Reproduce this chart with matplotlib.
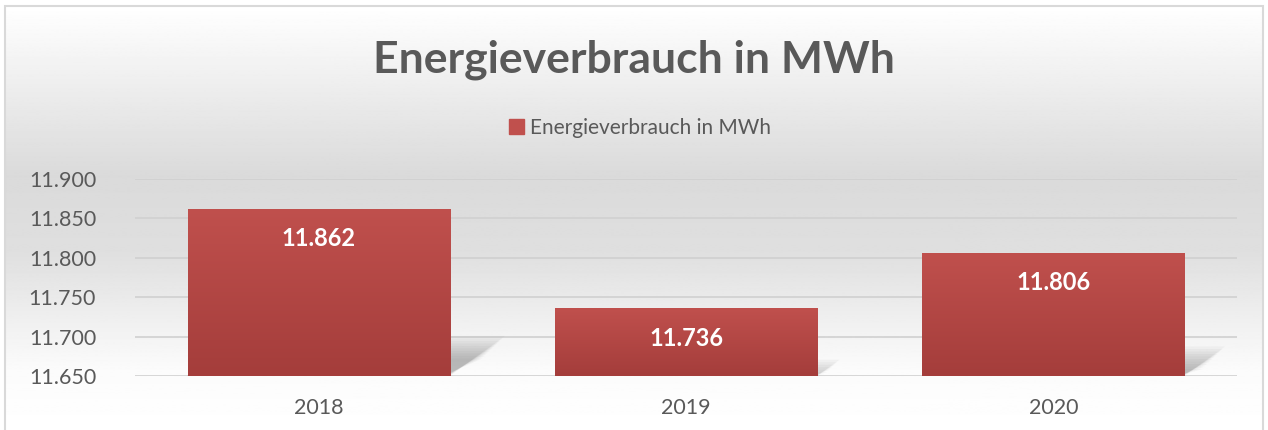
import matplotlib.pyplot as plt
import matplotlib.patches as mpatches
import numpy as np

years = ["2018", "2019", "2020"]
consumption = [11862, 11736, 11806]
y_ticks = [11650, 11700, 11750, 11800, 11850, 11900]
title = "Energieverbrauch in MWh"
series_name = "Energieverbrauch in MWh"

TEXT = "#595959"
BAR_TOP = np.array([192, 80, 77]) / 255
BAR_BOTTOM = np.array([164, 61, 59]) / 255

plt.rcParams["font.family"] = ["Lato", "DejaVu Sans"]


def fmt_de(v):
    return f"{v:,.0f}".replace(",", ".")


fig = plt.figure(figsize=(12.68, 4.30), dpi=100)

# background gradient of the chart area: white -> grey -> white
bg = fig.add_axes([5 / 1268, 0, 1258 / 1268, 1 - 6 / 430], zorder=0)
stops = np.array([0.0, 0.40, 0.58, 0.86, 1.0])
levels = np.array([1.0, 0.855, 0.875, 0.985, 1.0])
rows = np.interp(np.linspace(0, 1, 400), stops, levels)
grad = np.repeat(rows[:, None], 2, axis=1)
bg.imshow(grad, cmap="gray", vmin=0, vmax=1, aspect="auto", extent=[0, 1, 0, 1])
bg.set_axis_off()

border = mpatches.Rectangle((5 / 1268, -0.01), 1258 / 1268, 1 - 6 / 430 + 0.01,
                            transform=fig.transFigure, fill=False,
                            edgecolor="#d9d9d9", linewidth=1.5, zorder=5)
fig.patches.append(border)

ax = fig.add_axes([135 / 1268, 54 / 430, 1102 / 1268, 197 / 430], zorder=1)
ax.patch.set_alpha(0)

x = np.arange(len(years))
width = 0.714
base = y_ticks[0]
ax.set_xlim(-0.5, len(years) - 0.5)
ax.set_ylim(y_ticks[0], y_ticks[-1])

# perspective shadows behind the bars
px_per_x = 1102 / 3
px_per_y = 197 / (y_ticks[-1] - y_ticks[0])
for xi, v in zip(x, consumption):
    h = v - base
    dx = 0.33 * h * px_per_y / px_per_x
    dy = 0.24 * h
    xl, xr = xi - width / 2, xi + width / 2
    for i in range(10):
        s = i * 2.5
        sx = s / px_per_x
        sy = s / px_per_y
        poly = [(xl, base), (xr + sx * 0.3 - sx * 0.6, base),
                (xr + dx - sx, base + dy - sy), (xl + dx, base + dy - sy)]
        ax.add_patch(mpatches.Polygon(poly, closed=True, facecolor="#6f6f6f",
                                      edgecolor="none", alpha=0.06, zorder=1))

bars = ax.bar(x, [v - base for v in consumption], width=width, bottom=base,
              color=BAR_TOP, zorder=2)

# vertical gradient for each bar
g = np.linspace(0, 1, 256)[:, None]
for b in bars:
    x0, y0 = b.get_x(), b.get_y()
    w, hgt = b.get_width(), b.get_height()
    cols = BAR_TOP[None, :] * (1 - g) + BAR_BOTTOM[None, :] * g
    img = ax.imshow(np.repeat(cols[:, None, :], 2, axis=1), aspect="auto",
                    extent=[x0, x0 + w, y0, y0 + hgt], zorder=3, origin="upper")
    img.set_clip_path(b)

for xi, v in zip(x, consumption):
    ax.annotate(fmt_de(v), (xi, v), xytext=(0, -21.5), textcoords="offset points",
                ha="center", va="center", color="white", fontsize=17,
                fontweight="bold", zorder=4)

ax.set_xticks(x)
ax.set_xticklabels(years)
ax.set_yticks(y_ticks)
ax.set_yticklabels([fmt_de(t) for t in y_ticks])
ax.tick_params(axis="both", length=0, labelsize=15.5, colors=TEXT)
ax.tick_params(axis="y", pad=28)
ax.tick_params(axis="x", pad=16)
for sp in ax.spines.values():
    sp.set_visible(False)
ax.grid(axis="y", color="#d0d0d0", linewidth=1.2, zorder=0)
ax.set_axisbelow(True)
ax.set_xlim(-0.5, len(years) - 0.5)
ax.set_ylim(y_ticks[0], y_ticks[-1])

fig.text(0.5, 1 - 72 / 430, title, ha="center", va="baseline",
         fontsize=32, fontweight="bold", color=TEXT, zorder=6)

handle = mpatches.Patch(color=BAR_TOP, label=series_name)
fig.legend(handles=[handle], loc="center", bbox_to_anchor=(640 / 1268, 1 - 128 / 430),
           frameon=False, fontsize=15, handlelength=0.7, handleheight=0.7,
           handletextpad=0.3, labelcolor=TEXT)

fig.savefig("out.png", dpi=100)
